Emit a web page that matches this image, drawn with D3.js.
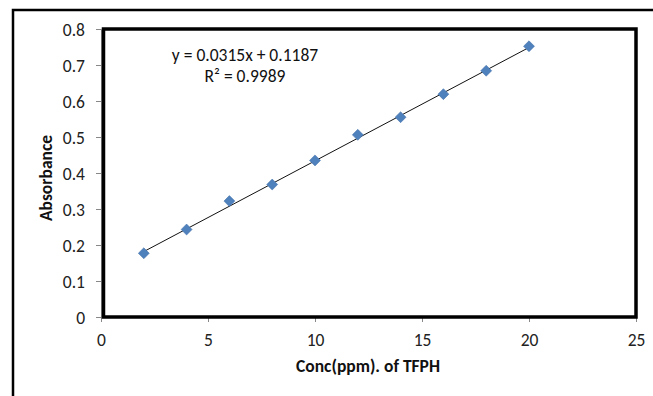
<!DOCTYPE html>
<html>
<head>
<meta charset="utf-8">
<script src="https://cdn.jsdelivr.net/npm/d3@7"></script>
<style>
  html, body { margin: 0; padding: 0; background: #fff; }
  svg { display: block; font-family: Carlito, Lato, "Open Sans", sans-serif; }
</style>
</head>
<body>
<svg id="chart" width="653" height="396"></svg>
<script>
const concentrations = [2, 4, 6, 8, 10, 12, 14, 16, 18, 20];
const absorbance = [0.177, 0.243, 0.322, 0.368, 0.435, 0.506, 0.555, 0.619, 0.684, 0.752];
const xTicks = [0, 5, 10, 15, 20, 25];
const yTicks = [0, 0.1, 0.2, 0.3, 0.4, 0.5, 0.6, 0.7, 0.8];
const slope = 0.0315, intercept = 0.1187;
const equationText = "y = 0.0315x + 0.1187";
const r2Text = "R² = 0.9989";
const xTitle = "Conc(ppm). of TFPH";
const yTitle = "Absorbance";

const svg = d3.select("#chart");
const plotLeft = 101, plotRight = 636, plotTop = 29, plotBottom = 317;
const fontFam = "Carlito, Lato, 'Open Sans', sans-serif";

const x = d3.scaleLinear().domain([0, 25]).range([plotLeft, plotRight]);
const y = d3.scaleLinear().domain([0, 0.8]).range([plotBottom, plotTop]);

// outer chart frame (extends past the viewport on right and bottom)
svg.append("rect").attr("x", 13).attr("y", 10).attr("width", 700).attr("height", 450)
  .attr("fill", "none").attr("stroke", "#000").attr("stroke-width", 2.5);

// axes
const xAxis = d3.axisBottom(x).tickValues(xTicks).tickSize(5).tickFormat(d3.format("d"));
const yAxis = d3.axisLeft(y).tickValues(yTicks).tickSize(5).tickFormat(d => d === 0 ? "0" : d3.format(".1f")(d));

const gx = svg.append("g").attr("transform", `translate(0,${plotBottom})`).call(xAxis);
const gy = svg.append("g").attr("transform", `translate(${plotLeft},0)`).call(yAxis);
[gx, gy].forEach(g => {
  g.attr("font-size", null).attr("font-family", null);
  g.select(".domain").attr("stroke", "#888");
  g.selectAll(".tick line").attr("stroke", "#888");
  g.selectAll(".tick text").attr("fill", "#222").style("font-size", "17.5px")
   .style("font-family", fontFam);
});
gx.selectAll(".tick text").attr("dy", null).attr("y", 29);
gy.selectAll(".tick text").attr("x", -16).attr("dy", "0.35em");

// plot area frame (thick black)
svg.append("rect")
  .attr("x", x(0) + 2.5).attr("y", y(0.8))
  .attr("width", x(25) - x(0) - 2.5).attr("height", y(0) - y(0.8))
  .attr("fill", "none").attr("stroke", "#000").attr("stroke-width", 3.5);

// trend line
svg.append("line")
  .attr("x1", x(concentrations[0])).attr("y1", y(slope * concentrations[0] + intercept))
  .attr("x2", x(concentrations[concentrations.length - 1]))
  .attr("y2", y(slope * concentrations[concentrations.length - 1] + intercept))
  .attr("stroke", "#111").attr("stroke-width", 1);

// markers
svg.append("g").selectAll("path").data(concentrations).join("path")
  .attr("d", d3.symbol().type(d3.symbolSquare).size(60))
  .attr("transform", (d, i) => `translate(${x(d)},${y(absorbance[i])}) rotate(45)`)
  .attr("fill", "#4F81BD").attr("stroke", "#3f6fa8").attr("stroke-width", 0.5);

// equation
svg.append("text").attr("x", 245).attr("y", 61).attr("text-anchor", "middle")
  .style("font-size", "17.5px").style("font-family", fontFam).attr("fill", "#111").text(equationText);
svg.append("text").attr("x", 245).attr("y", 82).attr("text-anchor", "middle")
  .style("font-size", "17.5px").style("font-family", fontFam).attr("fill", "#111").text(r2Text);

// axis titles
svg.append("text").attr("x", 368).attr("y", 372).attr("text-anchor", "middle")
  .style("font-size", "17.5px").style("font-weight", "bold").style("font-family", fontFam)
  .attr("fill", "#111").text(xTitle);
svg.append("text").attr("transform", `translate(52,${(plotTop + plotBottom) / 2 + 5}) rotate(-90)`)
  .attr("text-anchor", "middle")
  .style("font-size", "17.5px").style("font-weight", "bold").style("font-family", fontFam)
  .attr("fill", "#111").text(yTitle);
</script>
</body>
</html>
